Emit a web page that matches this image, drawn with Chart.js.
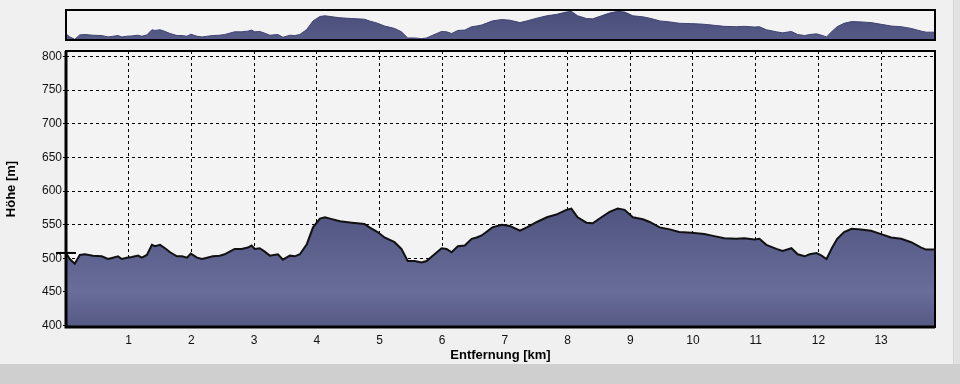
<!DOCTYPE html>
<html lang="de">
<head>
<meta charset="utf-8">
<title>Höhenprofil</title>
<script src="https://cdn.jsdelivr.net/npm/chart.js@4/dist/chart.umd.min.js"></script>
<style>
  html, body { margin: 0; padding: 0; }
  body { width: 960px; height: 384px; background: #f0f0f0; position: relative; overflow: hidden; }
  .c-band { position: absolute; left: 0; top: 364px; width: 960px; height: 20px; background: #cfcfcf; }
  .c-edge { position: absolute; left: 953px; top: 0; width: 7px; height: 364px; background: #e2e2e2; border-left: 1px solid #d6d6d6; }
  #profileChart { position: absolute; left: 0; top: 0; }
  #overviewChart { position: absolute; left: 0; top: 0; }
</style>
</head>
<body>
<div class="c-edge"></div>
<div class="c-band"></div>
<canvas id="profileChart" width="960" height="384"></canvas>
<canvas id="overviewChart" width="960" height="50"></canvas>
<script>
// afstand in km
const distanceKm = [
  0.00, 0.06, 0.14, 0.22, 0.30, 0.43, 0.57, 0.67, 0.75, 0.83, 0.89, 0.97,
  1.05, 1.15, 1.21, 1.29, 1.37, 1.42, 1.50, 1.58, 1.66, 1.77, 1.85, 1.93, 1.99,
  2.09, 2.17, 2.25, 2.34, 2.45, 2.53, 2.61, 2.69, 2.80, 2.90, 2.96,
  3.01, 3.09, 3.17, 3.25, 3.38, 3.46, 3.57, 3.65, 3.73, 3.84, 3.94,
  4.05, 4.13, 4.21, 4.37, 4.56, 4.76, 4.84, 4.97,
  5.08, 5.24, 5.35, 5.45, 5.56, 5.67, 5.75, 5.85, 5.99,
  6.07, 6.15, 6.25, 6.36, 6.47, 6.55, 6.63, 6.73, 6.80, 6.95,
  7.08, 7.24, 7.35, 7.51, 7.67, 7.82, 7.98,
  8.06, 8.16, 8.30, 8.40, 8.54, 8.67, 8.80, 8.91,
  9.04, 9.20, 9.31, 9.47, 9.63, 9.78, 9.98,
  10.10, 10.18, 10.34, 10.50, 10.69, 10.82, 10.98,
  11.06, 11.17, 11.33, 11.43, 11.57, 11.67, 11.78, 11.86, 11.97,
  12.05, 12.13, 12.22, 12.30, 12.41, 12.53, 12.68, 12.84,
  13.00, 13.16, 13.32, 13.48, 13.64, 13.72, 13.85
];
// hoogte in m
const elevationM = [
  508, 499, 492, 505, 506, 504, 503, 499, 501, 503, 499, 501,
  502, 504, 501, 505, 520, 518, 520, 515, 509, 503, 503, 501, 507,
  501, 499, 501, 503, 504, 506, 510, 514, 514, 516, 519,
  514, 515, 510, 504, 506, 498, 504, 503, 506, 521, 546,
  559, 561, 559, 555, 553, 551, 546, 539,
  531, 524, 514, 496, 496, 494, 496, 504, 515,
  514, 509, 518, 519, 529, 531, 534, 541, 546, 550,
  548, 541, 546, 554, 561, 565, 572,
  574, 561, 553, 552, 561, 569, 574, 572,
  561, 558, 554, 546, 543, 539, 538,
  537, 536, 533, 530, 529, 530, 528,
  529, 520, 514, 511, 515, 506, 503, 506, 508,
  504, 499, 516, 529, 539, 544, 543, 541,
  536, 531, 529, 524, 516, 513, 513
];
const startMarker = [{ x: 0, y: 508 }];
const yTicks = [400, 450, 500, 550, 600, 650, 700, 750, 800];
const xTicks = [1, 2, 3, 4, 5, 6, 7, 8, 9, 10, 11, 12, 13];

const fontFamily = "'Liberation Sans', Arial, sans-serif";
let profileChart;
let overviewChart;

const buildPoints = function () {
  const pts = [];
  for (let i = 0; i < distanceKm.length; i++) {
    pts.push({ x: distanceKm[i], y: elevationM[i] });
  }
  return pts;
};

const fillProfile = function (context) {
  const { ctx, chartArea } = context.chart;
  if (!chartArea) return '#5b5f8b';
  const g = ctx.createLinearGradient(0, chartArea.top, 0, chartArea.bottom);
  g.addColorStop(0, '#474b78');
  g.addColorStop(0.55, '#4e527f');
  g.addColorStop(0.87, '#696d9a');
  g.addColorStop(1, '#555983');
  return g;
};

const fillOverview = function (context) {
  const { ctx, chartArea } = context.chart;
  if (!chartArea) return '#52567f';
  const g = ctx.createLinearGradient(0, chartArea.top, 0, chartArea.bottom);
  g.addColorStop(0, '#484c79');
  g.addColorStop(1, '#575b87');
  return g;
};

// kader rond de grafiek
const framePlugin = {
  id: 'frame',
  beforeDraw: function (chart, args, opts) {
    const a = chart.chartArea;
    const ctx = chart.ctx;
    ctx.save();
    ctx.fillStyle = opts.bg;
    ctx.fillRect(a.left, a.top, a.right - a.left, a.bottom - a.top);
    ctx.restore();
  },
  afterDraw: function (chart, args, opts) {
    const a = chart.chartArea;
    const ctx = chart.ctx;
    ctx.save();
    ctx.strokeStyle = '#000';
    ctx.lineWidth = opts.thin;
    ctx.strokeRect(a.left, a.top, a.right - a.left, a.bottom - a.top);
    if (opts.thick) {
      ctx.lineWidth = opts.thick;
      ctx.beginPath();
      ctx.moveTo(a.left, a.top);
      ctx.lineTo(a.left, a.bottom);
      ctx.lineTo(a.right, a.bottom);
      ctx.stroke();
    }
    ctx.restore();
  }
};

const drawProfile = function () {
  const ctx = document.getElementById('profileChart').getContext('2d');
  profileChart = new Chart(ctx, {
    type: 'line',
    data: {
      datasets: [{
        data: buildPoints(),
        borderColor: '#111',
        borderWidth: 2,
        backgroundColor: fillProfile,
        fill: 'start',
        tension: 0,
        pointRadius: 0
      }, {
        type: 'scatter',
        data: startMarker,
        pointStyle: 'line',
        pointRadius: 10,
        borderColor: '#000',
        borderWidth: 2,
        clip: false
      }]
    },
    options: {
      responsive: false,
      animation: false,
      events: [],
      layout: { padding: { left: 0, right: 25, top: 51, bottom: 21 } },
      plugins: {
        legend: { display: false },
        tooltip: { enabled: false },
        frame: { bg: '#f3f3f3', thin: 2, thick: 3 }
      },
      scales: {
        x: {
          type: 'linear',
          min: 0,
          max: 13.86,
          z: 1,
          afterBuildTicks: function (scale) {
            scale.ticks = xTicks.map(function (v) { return { value: v }; });
          },
          afterFit: function (scale) { scale.height = 36; },
          ticks: {
            color: '#111',
            padding: 6,
            maxRotation: 0,
            font: { family: fontFamily, size: 12 }
          },
          grid: { color: '#000', lineWidth: 1, drawTicks: false, borderDash: [3, 3] },
          border: { display: false, dash: [3, 3] },
          title: {
            display: true,
            text: 'Entfernung [km]',
            color: '#000',
            padding: { top: 0, bottom: 0 },
            font: { family: fontFamily, size: 13, weight: 'bold' }
          }
        },
        y: {
          min: 398,
          max: 808,
          z: 1,
          afterBuildTicks: function (scale) {
            scale.ticks = yTicks.map(function (v) { return { value: v }; });
          },
          afterFit: function (scale) { scale.width = 66; },
          ticks: {
            color: '#111',
            padding: 1,
            font: { family: fontFamily, size: 12 }
          },
          grid: { color: '#000', lineWidth: 1, tickLength: 3, borderDash: [3, 3] },
          border: { display: false, dash: [3, 3] },
          title: {
            display: true,
            text: 'Höhe [m]',
            color: '#000',
            padding: { top: 4, bottom: 0 },
            font: { family: fontFamily, size: 13, weight: 'bold' }
          }
        }
      }
    },
    plugins: [framePlugin]
  });
};

const drawOverview = function () {
  const ctx = document.getElementById('overviewChart').getContext('2d');
  overviewChart = new Chart(ctx, {
    type: 'line',
    data: {
      datasets: [{
        data: buildPoints(),
        borderColor: '#3e4270',
        borderWidth: 1,
        backgroundColor: fillOverview,
        fill: 'start',
        tension: 0,
        pointRadius: 0
      }]
    },
    options: {
      responsive: false,
      animation: false,
      events: [],
      layout: { padding: { left: 66, right: 25, top: 10, bottom: 10 } },
      plugins: {
        legend: { display: false },
        tooltip: { enabled: false },
        frame: { bg: '#f3f3f3', thin: 2, thick: 0 }
      },
      scales: {
        x: { type: 'linear', min: 0, max: 13.86, display: false },
        y: { min: 490, max: 578, display: false }
      }
    },
    plugins: [framePlugin]
  });
};

document.addEventListener('DOMContentLoaded', function () {
  console.info('DOM geladen');
  drawProfile();
  drawOverview();
});
</script>
</body>
</html>
